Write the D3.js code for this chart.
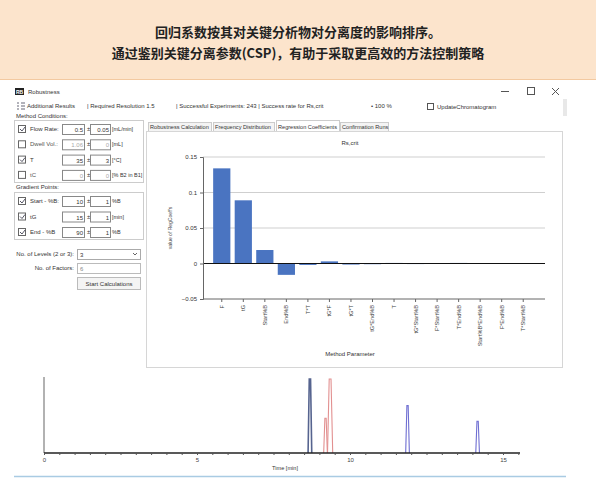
<!DOCTYPE html>
<html>
<head>
<meta charset="utf-8">
<script src="https://cdn.jsdelivr.net/npm/d3@7"></script>
<style>
  body { margin: 0; background: #fff; }
  svg { display: block; font-family: "Liberation Sans", Arial, sans-serif; }
</style>
</head>
<body>
<svg id="chart" width="596" height="478"></svg>
<script>
// banner
const bannerLines = ["回归系数按其对关键分析物对分离度的影响排序。", "通过鉴别关键分离参数(CSP)，有助于采取更高效的方法控制策略"]

// regression coefficients
const paramNames = ["F", "tG", "Start%B", "End%B", "T*T", "tG*F", "tG*T", "tG*End%B", "T", "tG*Start%B", "F*Start%B", "T*End%B", "Start%B*End%B", "F*End%B", "T*Start%B"]
const coeffValues = [0.134, 0.089, 0.019, -0.016, -0.002, 0.003, -0.0015, -0.001, 0.0008, -0.0008, -0.0006, 0.0008, 0.0007, -0.0006, 0.0007]
const yTicks = [0.15, 0.1, 0.05, 0, -0.05]

// chromatogram peaks
const peakTimes = [8.69, 9.2, 9.35, 11.88, 14.17]
const peakHeights = [1.0, 0.47, 1.0, 0.64, 0.43]
const peakColors = ["#56648f", "#e29090", "#e29090", "#6f6fd2", "#6f6fd2"]
const timeTicks = [0, 5, 10, 15]

// left panel
const conditionRows = [
  {label: "Flow Rate:", on: true, v: "0.5", d: "0.05", unit: "[mL/min]"},
  {label: "Dwell Vol.:", on: false, v: "1.06", d: "0", unit: "[mL]"},
  {label: "T", on: true, v: "35", d: "3", unit: "[°C]"},
  {label: "tC", on: false, v: "0", d: "0", unit: "[% B2 in B1]"}
]
const gradientRows = [
  {label: "Start - %B:", on: true, v: "10", d: "1", unit: "%B"},
  {label: "tG", on: true, v: "15", d: "1", unit: "[min]"},
  {label: "End - %B", on: true, v: "90", d: "1", unit: "%B"}
]
const tabs = ["Robustness Calculation", "Frequency Distribution", "Regression Coefficients", "Confirmation Runs"]

var svg = d3.select("#chart")

function txt(x, y, s, size, opts) {
  opts = opts || {}
  return svg.append("text").attr("x", x).attr("y", y).text(s)
    .attr("font-size", size).attr("fill", opts.fill || "#333")
    .attr("text-anchor", opts.anchor || "start")
    .attr("font-weight", opts.weight || "normal")
}

// banner
svg.append("rect").attr("x", 0).attr("y", 0).attr("width", 596).attr("height", 79).attr("fill", "#fce4cc")
svg.append("line").attr("x1", 0).attr("x2", 596).attr("y1", 79.5).attr("y2", 79.5).attr("stroke", "#f3c9a0")
bannerLines.forEach(function(s, i) {
  svg.append("text").attr("x", 298).attr("y", 37 + i * 21).text(s)
    .attr("font-family", "'Noto Sans CJK SC', sans-serif")
    .attr("font-size", 13).attr("font-weight", "bold").attr("fill", "#222").attr("text-anchor", "middle")
})

// title bar
svg.append("rect").attr("x", 15).attr("y", 88).attr("width", 9).attr("height", 7).attr("fill", "#222")
txt(16, 94, "RB", 5, {fill: "#fff", weight: "bold"})
txt(28, 94, "Robustness", 6)
svg.append("line").attr("x1", 501).attr("x2", 509).attr("y1", 91.5).attr("y2", 91.5).attr("stroke", "#555")
svg.append("rect").attr("x", 527.5).attr("y", 87.5).attr("width", 7).attr("height", 7).attr("fill", "none").attr("stroke", "#555")
svg.append("path").attr("d", "M552,88L559,95M559,88L552,95").attr("stroke", "#555")

// toolbar
svg.append("path").attr("d", "M17,103h2M17,106h2M17,109h2M21,103h4M21,106h4M21,109h4").attr("stroke", "#667").attr("stroke-width", 1)
txt(27, 108, "Additional Results", 6)
txt(87, 108, "|  Required Resolution   1.5", 6)
txt(176, 108, "|  Successful Experiments:  243  |  Success rate for   Rs,crit", 6)
txt(371, 108, "•  100 %", 6)
svg.append("rect").attr("x", 427.5).attr("y", 103.5).attr("width", 6).attr("height", 6).attr("fill", "#fff").attr("stroke", "#555")
txt(437, 109, "UpdateChromatogram", 6)
svg.append("rect").attr("x", 563).attr("y", 99).attr("width", 4).attr("height", 17).attr("fill", "#e8e8e8")

txt(16, 118, "Method Conditions:", 6)

function checkBox(x, y, on) {
  svg.append("rect").attr("x", x + 0.5).attr("y", y + 0.5).attr("width", 7).attr("height", 7).attr("fill", "#fff").attr("stroke", "#666")
  if (on) svg.append("path").attr("d", "M" + (x + 2) + "," + (y + 4) + "l2,2l3,-4").attr("fill", "none").attr("stroke", "#445").attr("stroke-width", 0.9)
}
function inputBox(x, y, w, s, grey) {
  svg.append("rect").attr("x", x + 0.5).attr("y", y + 0.5).attr("width", w).attr("height", 10).attr("fill", "#fff").attr("stroke", "#888")
  txt(x + w - 1, y + 8, s, 6, {anchor: "end", fill: grey ? "#aaa" : "#333"})
}
function paramRows(rows, y0, step) {
  rows.forEach(function(r, i) {
    var y = y0 + i * step
    checkBox(18, y - 6, r.on)
    txt(30, y, r.label, 6, {fill: r.on ? "#333" : "#555"})
    inputBox(62, y - 7, 22, r.v, !r.on)
    txt(87, y, "±", 6)
    inputBox(90, y - 7, 20, r.d, !r.on)
    txt(112, y, r.unit, 5.5)
  })
}
svg.append("rect").attr("x", 14.5).attr("y", 120.5).attr("width", 129).attr("height", 62).attr("fill", "none").attr("stroke", "#ccc")
paramRows(conditionRows, 131, 15.3)
txt(16, 189, "Gradient Points:", 6)
svg.append("rect").attr("x", 14.5).attr("y", 192.5).attr("width", 129).attr("height", 47).attr("fill", "none").attr("stroke", "#ccc")
paramRows(gradientRows, 203, 15.5)

txt(74, 256, "No. of Levels (2 or 3):", 6, {anchor: "end"})
svg.append("rect").attr("x", 77.5).attr("y", 249.5).attr("width", 63).attr("height", 10).attr("fill", "#fff").attr("stroke", "#aaa")
txt(80, 257, "3", 6)
svg.append("path").attr("d", "M133,253l2,2l2,-2").attr("fill", "none").attr("stroke", "#666")
txt(74, 270, "No. of Factors:", 6, {anchor: "end"})
svg.append("rect").attr("x", 77.5).attr("y", 263.5).attr("width", 63).attr("height", 10).attr("fill", "#fff").attr("stroke", "#bbb")
txt(80, 271, "6", 6, {fill: "#888"})
svg.append("rect").attr("x", 77.5).attr("y", 277.5).attr("width", 63).attr("height", 12).attr("fill", "#f4f4f4").attr("stroke", "#bbb")
txt(109, 286, "Start Calculations", 6, {anchor: "middle"})

// tabs
var tabX = [148, 213, 276, 340]
var tabW = [63, 61, 63, 48]
tabs.forEach(function(t, i) {
  var sel = i == 2
  svg.append("rect").attr("x", tabX[i] + 0.5).attr("y", sel ? 120.5 : 122.5).attr("width", tabW[i]).attr("height", sel ? 11 : 9)
    .attr("fill", sel ? "#fff" : "#f4f4f4").attr("stroke", "#ccc")
  txt(tabX[i] + 2, 129, t, 5.6)
})

// chart panel
svg.append("rect").attr("x", 146.5).attr("y", 131.5).attr("width", 416).attr("height", 236).attr("fill", "#fff").attr("stroke", "#d6d6d6")
txt(350, 145, "Rs,crit", 6, {anchor: "middle"})

var x = d3.scaleBand().domain(d3.range(paramNames.length)).range([211, 534]).paddingInner(0.2).paddingOuter(0.1)
var y = d3.scaleLinear().domain([-0.05, 0.15]).range([299, 157])

var grid = svg.append("g")
grid.selectAll("line").data(yTicks.filter(function(t) { return t > 0 })).enter().append("line")
  .attr("x1", 203).attr("x2", 545).attr("y1", function(d) { return y(d) }).attr("y2", function(d) { return y(d) })
  .attr("stroke", "#cfcfcf").attr("stroke-width", 1)

svg.append("g").selectAll("rect").data(coeffValues).enter().append("rect")
  .attr("x", function(d, i) { return x(i) })
  .attr("width", x.bandwidth())
  .attr("y", function(d) { return y(Math.max(0, d)) })
  .attr("height", function(d) { return Math.abs(y(d) - y(0)) })
  .attr("fill", "#4a74c1")

svg.append("line").attr("x1", 203).attr("x2", 545).attr("y1", y(0)).attr("y2", y(0)).attr("stroke", "#111").attr("stroke-width", 1)

var yAxis = svg.append("g").attr("transform", "translate(203,0)")
  .call(d3.axisLeft(y).tickValues(yTicks).tickSize(3).tickFormat(function(d) { return d == 0 ? "0" : d3.format("")(d) }))
yAxis.selectAll("text").attr("font-size", 6).attr("fill", "#333").attr("font-family", "Liberation Sans, Arial")
yAxis.selectAll("line").attr("stroke", "#666")
yAxis.select(".domain").attr("stroke", "#666")

var xAxis = svg.append("g").attr("transform", "translate(0," + y(-0.05) + ")")
  .call(d3.axisBottom(x).tickSize(3).tickFormat(function(i) { return paramNames[i] }))
xAxis.select(".domain").attr("d", "M203,0H545").attr("stroke", "#666")
xAxis.selectAll("line").attr("stroke", "#666")
xAxis.selectAll("text").attr("font-size", 5.6).attr("fill", "#444").attr("font-family", "Liberation Sans, Arial")
  .attr("transform", "rotate(-90)").attr("text-anchor", "end").attr("x", -6).attr("y", 0).attr("dy", "0.35em")

svg.append("text").attr("transform", "translate(172,228) rotate(-90)").attr("text-anchor", "middle")
  .attr("font-size", 5).attr("fill", "#444").text("value of RegCoeffs")
txt(350, 356, "Method Parameter", 6, {anchor: "middle"})

// chromatogram
var tx = d3.scaleLinear().domain([0, 15]).range([44, 503])
var ty = d3.scaleLinear().domain([0, 1]).range([453, 379])

svg.append("line").attr("x1", 44).attr("x2", 44).attr("y1", 377).attr("y2", 453).attr("stroke", "#999").attr("stroke-width", 1.5)

var peakLine = d3.line().x(function(p) { return tx(p[0]) }).y(function(p) { return ty(p[1]) })
peakTimes.forEach(function(t, i) {
  var w = i == 2 ? 0.085 : 0.06
  var pts = [[t - w, 0], [t - w * 0.35, peakHeights[i]], [t + w * 0.35, peakHeights[i]], [t + w, 0]]
  svg.append("path").attr("d", peakLine(pts)).attr("fill", "none").attr("stroke", peakColors[i]).attr("stroke-width", i == 0 ? 1.6 : 1.1)
})

var tAxis = svg.append("g").attr("transform", "translate(0,453)")
  .call(d3.axisBottom(tx).tickValues(d3.range(0, 15.6, 0.5)).tickSize(2).tickFormat(function(d) { return timeTicks.includes(d) ? d : "" }))
tAxis.select(".domain").attr("d", "M44,0H520").attr("stroke", "#222").attr("stroke-width", 1.6)
tAxis.selectAll("line").attr("stroke", "#555")
tAxis.selectAll("text").attr("font-size", 6).attr("fill", "#444").attr("font-family", "Liberation Sans, Arial")
txt(285, 470, "Time [min]", 5.6, {anchor: "middle"})
svg.append("line").attr("x1", 14).attr("x2", 566).attr("y1", 476.5).attr("y2", 476.5).attr("stroke", "#a9cbe3").attr("stroke-width", 1.5)
</script>
</body>
</html>
